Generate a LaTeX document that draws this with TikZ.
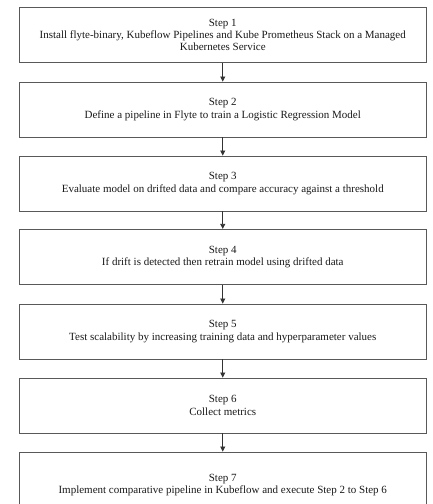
\documentclass[tikz,border=0pt]{standalone}
\usepackage{fontspec}
\setmainfont{Liberation Serif}
\usetikzlibrary{arrows.meta}
\begin{document}
\begin{tikzpicture}[x=1pt,y=-1pt,
  stepbox/.style={draw=black!65, line width=0.9pt, minimum width=406.5pt, minimum height=55pt,
    inner sep=0pt, align=center, font=\fontsize{11}{12.2}\selectfont, text=black!90},
  flow/.style={draw=black!80, line width=0.8pt, -{Triangle[length=5pt,width=5pt]}}]
\useasboundingbox (0,0) rectangle (432,504);
\clip (0,0) rectangle (432,504);
\node[stepbox] (s1) at (222.75,34.8) {Step 1\\Install flyte-binary, Kubeflow Pipelines and Kube Prometheus Stack on a Managed\\Kubernetes Service};
\node[stepbox] (s2) at (222.75,109.5) {Step 2\\Define a pipeline in Flyte to train a Logistic Regression Model};
\node[stepbox] (s3) at (222.75,183.5) {Step 3\\Evaluate model on drifted data and compare accuracy against a threshold};
\node[stepbox] (s4) at (222.75,256.8) {Step 4\\If drift is detected then retrain model using drifted data};
\node[stepbox] (s5) at (222.75,331.5) {Step 5\\Test scalability by increasing training data and hyperparameter values};
\node[stepbox] (s6) at (222.75,405.5) {Step 6\\Collect metrics};
\node[stepbox, minimum height=66pt] (s7) at (222.75,485) {Step 7\\Implement comparative pipeline in Kubeflow and execute Step 2 to Step 6};
\draw[flow] (s1.south) -- (s2.north);
\draw[flow] (s2.south) -- (s3.north);
\draw[flow] (s3.south) -- (s4.north);
\draw[flow] (s4.south) -- (s5.north);
\draw[flow] (s5.south) -- (s6.north);
\draw[flow] (s6.south) -- (s7.north);
\end{tikzpicture}
\end{document}
